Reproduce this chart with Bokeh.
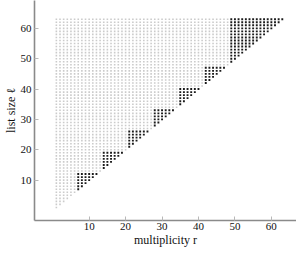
from bokeh.plotting import figure
from bokeh.models import Range1d, FixedTicker
from bokeh.embed import file_html
from bokeh.resources import INLINE

# ---- data ----
max_list_size = 63                      # largest list size l (and multiplicity r)
block_starts = [7, 14, 21, 28, 35, 42, 49]   # black triangles: start r = start l
block_ends = [12, 19, 26, 33, 40, 47, 63]    # black triangles: end r = end l
x_ticks = [10, 20, 30, 40, 50, 60]
y_ticks = [10, 20, 30, 40, 50, 60]
x_title = "multiplicity r"
y_title = "list size \u2113"

# build the point sets: all (r, l) with r <= l; black if inside a triangle block
gray_r, gray_l, black_r, black_l = [], [], [], []
for l in range(1, max_list_size + 1):
    for r in range(1, l + 1):
        inside = any(s <= r and l <= e for s, e in zip(block_starts, block_ends))
        if inside:
            black_r.append(r); black_l.append(l)
        else:
            gray_r.append(r); gray_l.append(l)

p = figure(width=296, height=249, output_backend="svg", toolbar_location=None,
           x_range=Range1d(-5.0, 66.9), y_range=Range1d(-3.3, 69.17),
           min_border_left=34, min_border_right=0, min_border_top=0,
           min_border_bottom=26)
p.grid.visible = False
p.outline_line_color = None
p.background_fill_color = "white"
p.border_fill_color = "white"

p.scatter(gray_r, gray_l, marker="square", size=1.6, fill_color="#cbcbcb",
          line_color=None)
p.scatter(black_r, black_l, marker="square", size=1.9, fill_color="#1a1a1a",
          line_color=None)

font = "Liberation Serif"
for ax, ticks, title, standoff in ((p.xaxis[0], x_ticks, x_title, 2),
                                   (p.yaxis[0], y_ticks, y_title, 3)):
    ax.ticker = FixedTicker(ticks=ticks)
    ax.minor_tick_line_color = None
    ax.major_tick_in = 4
    ax.major_tick_out = 0
    ax.major_tick_line_color = "#b8b8b8"
    ax.axis_line_color = "#8a8a8a"
    ax.axis_line_width = 1.6
    ax.major_label_text_font = font
    ax.major_label_text_font_size = "11px"
    ax.major_label_text_color = "#111111"
    ax.major_label_standoff = standoff
    ax.axis_label = title
    ax.axis_label_text_font = font
    ax.axis_label_text_font_style = "normal"
    ax.axis_label_text_font_size = "12px"
    ax.axis_label_text_color = "#111111"
    ax.axis_label_standoff = 0

open("out.html", "w").write(file_html(p, INLINE))
